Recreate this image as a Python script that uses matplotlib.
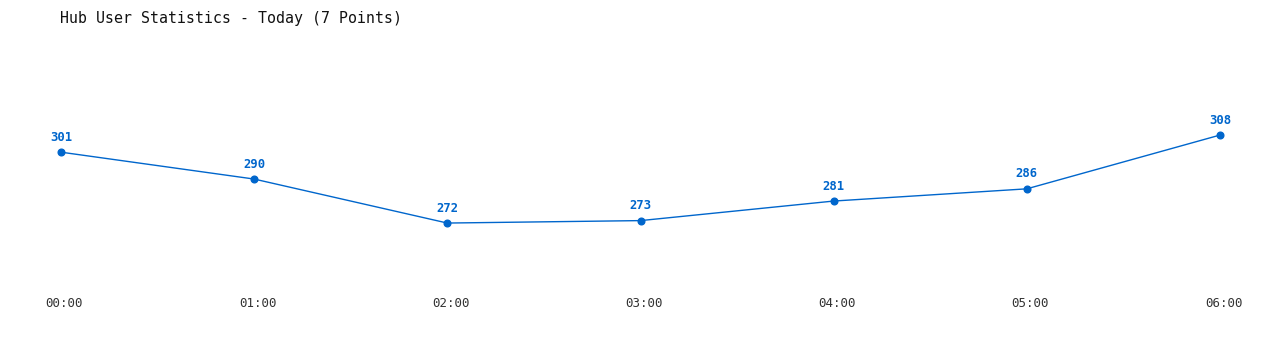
import matplotlib
matplotlib.use("Agg")
import matplotlib.pyplot as plt
import matplotlib.transforms as mtransforms

times = ["00:00", "01:00", "02:00", "03:00", "04:00", "05:00", "06:00"]
users = [301, 290, 272, 273, 281, 286, 308]
title = "Hub User Statistics - Today (7 Points)"

W, H = 1280, 350
fig = plt.figure(figsize=(W / 100, H / 100), dpi=100)
left, right = 61 / W, 1220 / W
top_px, bot_px = 50, 280
ax = fig.add_axes([left, 1 - bot_px / H, right - left, (bot_px - top_px) / H])

color = "#0066cc"
xs = list(range(len(times)))
ax.plot(xs, users, color=color, lw=1.0, marker="o", ms=4.8, mec=color, mfc=color,
        clip_on=False)
for x, v in zip(xs, users):
    ax.annotate(str(v), (x, v), xytext=(0, 6), textcoords="offset points",
                ha="center", va="bottom", fontsize=8.8, fontweight="bold",
                color=color, family="DejaVu Sans Mono")

ax.set_xlim(0, 6)
ax.set_ylim(248.7, 342.8)
ax.set_xticks(xs)
ax.set_xticklabels(times, family="DejaVu Sans Mono", fontsize=9, color="#333333")
ax.tick_params(axis="x", length=0, pad=12)
ax.set_yticks([])
for s in ax.spines.values():
    s.set_visible(False)
offset = mtransforms.ScaledTranslation(3.5 / 100, 0, fig.dpi_scale_trans)
for lab in ax.get_xticklabels():
    lab.set_transform(lab.get_transform() + offset)

fig.text(60 / W, 1 - 18 / H, title, ha="left", va="center",
         family="DejaVu Sans Mono", fontsize=10.7, color="#111111")

fig.savefig("out.png", dpi=100, facecolor="white")
